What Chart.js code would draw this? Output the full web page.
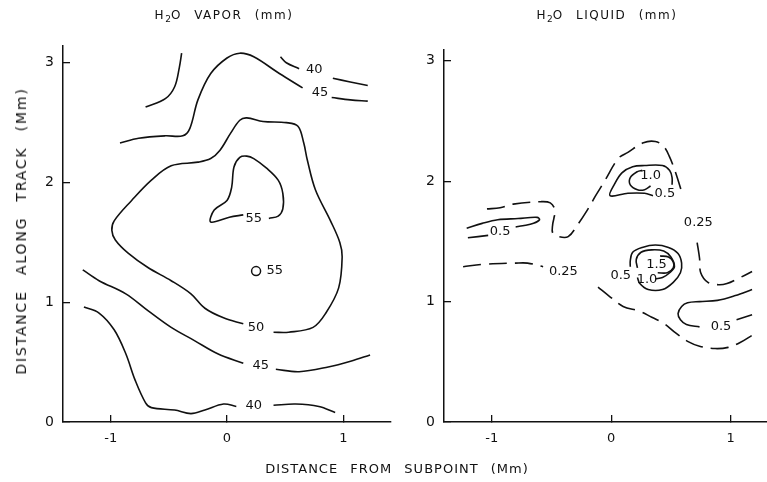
<!DOCTYPE html>
<html>
<head>
<meta charset="utf-8">
<script src="https://cdn.jsdelivr.net/npm/chart.js@4.4.0/dist/chart.umd.min.js"></script>
<style>
html,body{margin:0;padding:0;background:#fff;}
#wrap{position:relative;width:767px;height:482px;overflow:hidden;font-family:"DejaVu Sans",sans-serif;color:#000;}
canvas{position:absolute;top:0;}
.t{position:absolute;font-size:12px;white-space:nowrap;letter-spacing:1.5px;word-spacing:7px;transform:translate(-50%,-50%);color:#111;}
.t sub{font-size:9px;vertical-align:-3px;letter-spacing:0;}
</style>
</head>
<body>
<div id="wrap">
  <canvas id="c1" width="397" height="482" style="left:0"></canvas>
  <canvas id="c2" width="370" height="482" style="left:397px"></canvas>
  <div class="t" style="left:224px;top:16px">H<sub>2</sub>O VAPOR (mm)</div>
  <div class="t" style="left:607px;top:16px">H<sub>2</sub>O LIQUID (mm)</div>
  <div class="t" style="left:397px;top:468px;font-size:13px;letter-spacing:1px">DISTANCE FROM SUBPOINT (Mm)</div>
  <div class="t" style="left:21px;top:231px;font-size:14px;letter-spacing:1.8px;word-spacing:9px;transform:translate(-50%,-50%) rotate(-90deg)">DISTANCE ALONG TRACK (Mm)</div>
</div>
<script>
// ---- tick values ----
const xTicks = [-1, 0, 1];
const yTicks = [0, 1, 2, 3];

// ---- H2O vapor contours (x, y in Mm) ----
const vapor40Top1 = [[0.46,3.05],[0.51,3.00],[0.62,2.95]];
const vapor40Top2 = [[0.91,2.87],[1.06,2.84],[1.21,2.81]];
const vapor45UpLeft = [[-0.70,2.63],[-0.53,2.70],[-0.45,2.80],[-0.41,2.96],[-0.39,3.08]];
const vapor45Top1 = [[-0.92,2.33],[-0.76,2.37],[-0.53,2.39],[-0.38,2.39],[-0.32,2.45],[-0.25,2.69],[-0.14,2.91],[0,3.04],[0.11,3.08],[0.23,3.05],[0.45,2.91],[0.65,2.79]];
const vapor45Top2 = [[0.90,2.71],[1.06,2.69],[1.21,2.68]];
const vapor50 = [[0.40,0.75],[0.53,0.75],[0.74,0.79],[0.85,0.91],[0.96,1.12],[0.99,1.38],[0.97,1.50],[0.89,1.68],[0.76,1.94],[0.69,2.19],[0.66,2.33],[0.61,2.47],[0.51,2.50],[0.31,2.51],[0.17,2.54],[0.11,2.52],[0.03,2.41],[-0.06,2.27],[-0.14,2.20],[-0.25,2.17],[-0.48,2.14],[-0.65,2.02],[-0.82,1.85],[-0.97,1.68],[-0.99,1.60],[-0.96,1.52],[-0.85,1.41],[-0.68,1.29],[-0.48,1.18],[-0.31,1.07],[-0.19,0.95],[-0.03,0.87],[0.14,0.82]];
const vapor55 = [[0.14,1.73],[0.02,1.71],[-0.14,1.67],[-0.11,1.77],[0,1.85],[0.04,1.96],[0.06,2.13],[0.11,2.21],[0.17,2.22],[0.23,2.20],[0.34,2.12],[0.44,2.02],[0.48,1.91],[0.48,1.78],[0.44,1.72],[0.36,1.70]];
const vapor55Dot = [[0.25,1.26]];
const vapor45Low1 = [[-1.24,1.27],[-1.10,1.18],[-0.87,1.07],[-0.68,0.93],[-0.48,0.79],[-0.28,0.68],[-0.08,0.57],[0.14,0.49]];
const vapor45Low2 = [[0.42,0.44],[0.62,0.42],[0.87,0.46],[1.07,0.51],[1.23,0.56]];
const vapor40Low1 = [[-1.23,0.96],[-1.10,0.91],[-0.97,0.77],[-0.87,0.57],[-0.79,0.35],[-0.70,0.16],[-0.65,0.12],[-0.45,0.10],[-0.31,0.07],[-0.19,0.10],[-0.03,0.15],[0.08,0.13]];
const vapor40Low2 = [[0.40,0.14],[0.59,0.15],[0.79,0.13],[0.93,0.08]];
const vaporLabels = [['40',0.75,2.94],['45',0.80,2.75],['55',0.23,1.70],['55',0.41,1.26],['50',0.25,0.79],['45',0.29,0.47],['40',0.23,0.14]];

// ---- H2O liquid contours (x, y in Mm) ----
const liquid25Upper = [[-1.04,1.77],[-0.93,1.78],[-0.82,1.81],[-0.59,1.83],[-0.51,1.82],[-0.47,1.76],[-0.48,1.69],[-0.49,1.64],[-0.49,1.57],[-0.44,1.54],[-0.36,1.54],[-0.28,1.64],[-0.20,1.76],[-0.13,1.88],[-0.05,2.01],[0.06,2.19],[0.14,2.24],[0.27,2.32],[0.37,2.33],[0.44,2.29],[0.49,2.20],[0.54,2.07],[0.60,1.88]];
const liquid25Right = [[0.72,1.49],[0.74,1.36],[0.75,1.24],[0.81,1.16],[0.90,1.14],[0.97,1.15],[1.06,1.19],[1.18,1.25]];
const liquid25Left = [[-1.24,1.29],[-1.07,1.31],[-0.80,1.32],[-0.70,1.32],[-0.57,1.29]];
const liquid25Lower = [[-0.11,1.12],[-0.01,1.04],[0.10,0.96],[0.24,0.92],[0.34,0.87],[0.44,0.82],[0.54,0.74],[0.64,0.67],[0.74,0.63],[0.87,0.61],[0.98,0.62],[1.08,0.66],[1.18,0.72]];
const liquid05Left1 = [[-1.21,1.61],[-1.08,1.65],[-0.95,1.68],[-0.78,1.69],[-0.62,1.70],[-0.60,1.68],[-0.65,1.65],[-0.74,1.63],[-0.80,1.62]];
const liquid05Left2 = [[-1.03,1.55],[-1.20,1.53]];
const liquid05Upper = [[0.51,1.97],[0.51,2.03],[0.49,2.09],[0.43,2.13],[0.28,2.13],[0.18,2.12],[0.09,2.07],[0.03,1.98],[-0.01,1.88],[0.14,1.90],[0.28,1.90],[0.35,1.88]];
const liquid10Upper = [[0.26,2.09],[0.22,2.08],[0.16,2.03],[0.16,1.97],[0.22,1.93],[0.28,1.93],[0.33,1.96]];
const liquid05Mid = [[0.22,1.20],[0.24,1.15],[0.31,1.10],[0.43,1.10],[0.52,1.16],[0.58,1.24],[0.59,1.32],[0.56,1.40],[0.48,1.45],[0.37,1.47],[0.26,1.45],[0.18,1.41],[0.16,1.34],[0.16,1.29]];
const liquid10Mid = [[0.22,1.28],[0.21,1.35],[0.25,1.41],[0.34,1.43],[0.44,1.42],[0.50,1.37],[0.53,1.29],[0.49,1.24],[0.43,1.20],[0.37,1.19]];
const liquid15Mid = [[0.41,1.38],[0.48,1.37],[0.52,1.33],[0.52,1.28],[0.47,1.24],[0.39,1.24]];
const liquid05Right1 = [[1.18,1.10],[1.04,1.05],[0.89,1.01],[0.74,1.00],[0.64,0.99],[0.59,0.96],[0.56,0.90],[0.58,0.85],[0.63,0.81],[0.74,0.79]];
const liquid05Right2 = [[1.05,0.85],[1.18,0.89]];
const liquidLabels = [['0.25',0.73,1.66],['0.25',-0.40,1.25],['0.5',-0.93,1.58],['0.5',0.45,1.90],['1.0',0.33,2.05],['0.5',0.08,1.22],['1.0',0.30,1.18],['1.5',0.38,1.31],['0.5',0.92,0.79]];

const FONT = '"DejaVu Sans", sans-serif';
const INK = '#111';

const contourLabels = {
  id: 'contourLabels',
  afterDatasetsDraw(chart, args, opts) {
    const {ctx, scales} = chart;
    ctx.save();
    ctx.font = opts.font;
    ctx.fillStyle = INK;
    ctx.textAlign = 'center';
    ctx.textBaseline = 'middle';
    opts.items.forEach(([t, vx, vy]) => {
      ctx.fillText(t, scales.x.getPixelForValue(vx), scales.y.getPixelForValue(vy));
    });
    ctx.restore();
  }
};

function line(pts, dashed) {
  return {
    data: pts.map(([x, y]) => ({x, y})),
    showLine: true,
    borderColor: INK,
    borderWidth: 1.6,
    borderDash: dashed ? [18, 8] : [],
    pointRadius: 0,
    tension: 0.35,
    fill: false
  };
}

function axes(xmin, xmax, ymin, ymax, yWidth) {
  const common = {
    type: 'linear',
    border: {display: true, color: INK, width: 1.5},
    grid: {display: true, drawOnChartArea: false, drawTicks: true, tickLength: -7, color: INK, lineWidth: 1.3}
  };
  return {
    x: Object.assign({}, common, {
      min: xmin, max: xmax,
      afterBuildTicks: s => { s.ticks = xTicks.map(v => ({value: v})); },
      afterFit: s => { s.height = 60; },
      ticks: {padding: 16, color: INK, font: {family: FONT, size: 13}, maxRotation: 0}
    }),
    y: Object.assign({}, common, {
      min: ymin, max: ymax,
      afterBuildTicks: s => { s.ticks = yTicks.map(v => ({value: v})); },
      afterFit: s => { s.width = yWidth; },
      ticks: {padding: 16, color: INK, font: {family: FONT, size: 14}}
    })
  };
}

function makeChart(id, datasets, labels, range, pad, yWidth) {
  new Chart(document.getElementById(id), {
    type: 'scatter',
    data: {datasets},
    plugins: [contourLabels],
    options: {
      responsive: false,
      animation: false,
      events: [],
      layout: {padding: pad},
      scales: axes(range[0], range[1], range[2], range[3], yWidth),
      plugins: {
        legend: {display: false},
        tooltip: {enabled: false},
        contourLabels: {items: labels, font: '13px ' + FONT}
      }
    }
  });
}

const dot = {
  data: vapor55Dot.map(([x, y]) => ({x, y})),
  showLine: false,
  pointRadius: 4.5,
  pointBorderWidth: 1.5,
  pointBorderColor: INK,
  pointBackgroundColor: '#fff'
};

makeChart('c1', [
  line(vapor40Top1), line(vapor40Top2), line(vapor45UpLeft), line(vapor45Top1), line(vapor45Top2),
  line(vapor50), line(vapor55), line(vapor45Low1), line(vapor45Low2), line(vapor40Low1), line(vapor40Low2), dot
], vaporLabels, [-1.41, 1.41, 0, 3.14], {top: 46, left: 0, right: 0, bottom: 0}, 63);

makeChart('c2', [
  line(liquid25Upper, true), line(liquid25Right, true), line(liquid25Left, true), line(liquid25Lower, true),
  line(liquid05Left1), line(liquid05Left2), line(liquid05Upper), line(liquid10Upper),
  line(liquid05Mid), line(liquid10Mid), line(liquid15Mid), line(liquid05Right1), line(liquid05Right2)
], liquidLabels, [-1.40, 1.305, 0, 3.09], {top: 50, left: 0, right: 0, bottom: 0}, 47);
</script>
</body>
</html>
